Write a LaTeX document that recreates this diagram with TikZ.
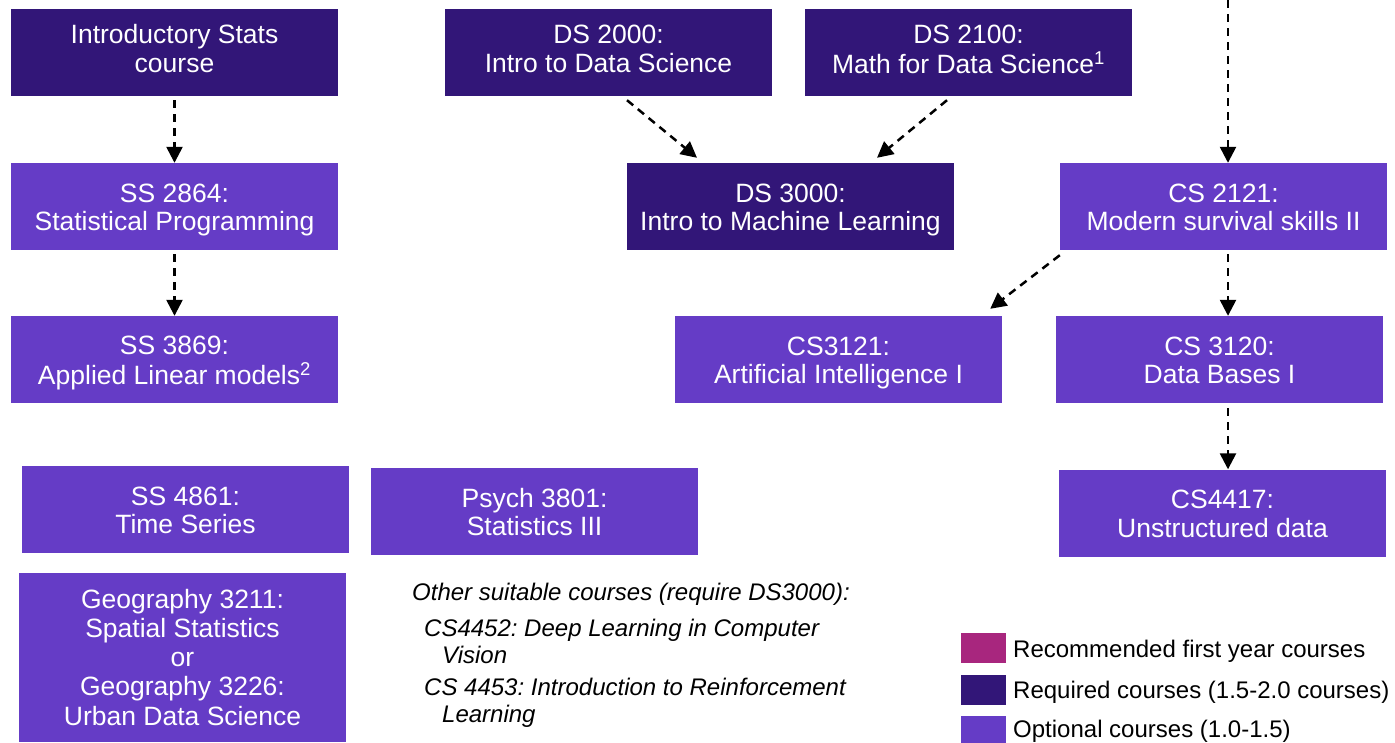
\documentclass[tikz,border=0pt]{standalone}
\usepackage{fontspec}
\setmainfont{Liberation Sans}
\usetikzlibrary{arrows.meta,calc}
\frenchspacing
\definecolor{reqc}{RGB}{50,22,120}
\definecolor{optc}{RGB}{101,60,198}
\definecolor{recc}{RGB}{168,38,126}
\newcommand\boxlines[2][-10.5pt]{\raisebox{#1}[0pt][0pt]{\begin{tabular}{@{}c@{}}#2\end{tabular}}}
\tikzset{
  course/.style={minimum width=327pt, minimum height=87pt, inner sep=0pt, text=white,
    font=\fontsize{26.5}{28.3}\selectfont},
  reqbox/.style={course, fill=reqc},
  optbox/.style={course, fill=optc},
  arr/.style={draw=black, line width=2.5pt, dash pattern=on 8pt off 6pt,
    -{Triangle[length=16pt,width=16pt]}},
  note/.style={anchor=base west, inner sep=0pt, font=\fontsize{24}{27}\selectfont\itshape},
  legsq/.style={minimum width=45pt, minimum height=30pt, inner sep=0pt},
  legtxt/.style={anchor=west, inner sep=0pt, font=\fontsize{24}{27}\selectfont}
}
\begin{document}
\begin{tikzpicture}[x=1pt,y=-1pt]
\useasboundingbox (0,0) rectangle (1395,742);
% boxes
\node[reqbox] (intro) at (174.5,52.5) {\boxlines[-6.2pt]{Introductory Stats\\course}};
\node[reqbox] (ds2000) at (608.5,52.5) {\boxlines[-6.2pt]{DS 2000:\\Intro to Data Science}};
\node[reqbox] (ds2100) at (968.5,52.5) {\boxlines[-6.2pt]{DS 2100:\\Math for Data Science\textsuperscript{1}}};
\node[optbox] (ss2864) at (174.5,206.5) {\boxlines{SS 2864:\\Statistical Programming}};
\node[reqbox] (ds3000) at (790.5,206.5) {\boxlines{DS 3000:\\Intro to Machine Learning}};
\node[optbox] (cs2121) at (1223.5,206.5) {\boxlines{CS 2121:\\Modern survival skills II}};
\node[optbox] (ss3869) at (174.5,359.5) {\boxlines{SS 3869:\\Applied Linear models\textsuperscript{2}}};
\node[optbox] (cs3121) at (838.5,359.5) {\boxlines{CS3121:\\Artificial Intelligence I}};
\node[optbox] (cs3120) at (1219.5,359.5) {\boxlines{CS 3120:\\Data Bases I}};
\node[optbox] (ss4861) at (185.5,509.5) {\boxlines{SS 4861:\\Time Series}};
\node[optbox] (psych) at (534.5,511.5) {\boxlines{Psych 3801:\\Statistics III}};
\node[optbox] (cs4417) at (1222.5,513) {\boxlines{CS4417:\\Unstructured data}};
\node[optbox, minimum height=169pt, font=\fontsize{26.5}{29.2}\selectfont] (geo) at (182.5,657.5)
  {\boxlines[-9.5pt]{Geography 3211:\\Spatial Statistics\\or\\Geography 3226:\\Urban Data Science}};
% connectors
\coordinate (topin) at (1228,0);
\draw[arr, shorten <=4pt] (intro) -- (ss2864);
\draw[arr, shorten <=4pt] (ss2864) -- (ss3869);
\draw[arr] (topin) -- (topin |- cs2121.north);
\draw[arr, shorten <=4pt] (cs2121.south -| topin) -- (cs3120.north -| topin);
\draw[arr, shorten <=5pt] (cs3120.south -| topin) -- (cs4417.north -| topin);
\draw[arr] ([xshift=18.5pt,yshift=-4pt]ds2000.south) -- ([xshift=-93.5pt,yshift=5pt]ds3000.north);
\draw[arr] ([xshift=-21.5pt,yshift=-4pt]ds2100.south) -- ([xshift=86.5pt,yshift=5pt]ds3000.north);
\draw[arr] ([yshift=-5pt]cs2121.south west) -- ([xshift=-12pt,yshift=7pt]cs3121.north east);
% other suitable courses
\node[note] (oth) at (412,600) {Other suitable courses (require DS3000):};
\node[note] (c1a) at (424,636) {CS4452: Deep Learning in Computer};
\node[note] (c1b) at (442,663) {Vision};
\node[note] (c2a) at (424,695) {CS 4453: Introduction to Reinforcement};
\node[note] (c2b) at (442,722) {Learning};
% legend
\node[legsq, fill=recc] (l1) at (983.5,648) {};
\node[legsq, fill=reqc] (l2) at (983.5,689.5) {};
\node[legsq, fill=optc] (l3) at (983.5,730.5) {};
\node[legtxt] (t1) at (1013,651) {Recommended first year courses};
\node[legtxt] (t2) at (1013,692) {Required courses (1.5-2.0 courses)};
\node[legtxt] (t3) at (1013,731) {Optional courses (1.0-1.5)};
\end{tikzpicture}
\end{document}
